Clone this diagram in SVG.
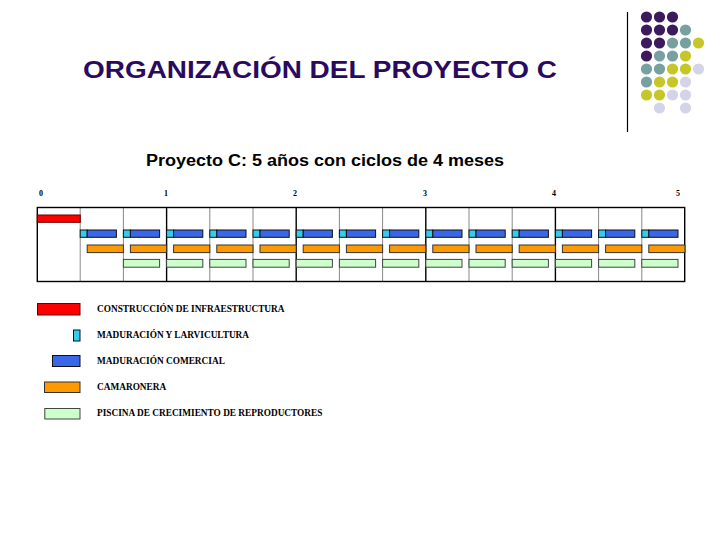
<svg xmlns="http://www.w3.org/2000/svg" xmlns:xlink="http://www.w3.org/1999/xlink" width="720" height="540" viewBox="0 0 720 540">
<style>
.title{font-family:"Liberation Sans",Arial,sans-serif;font-size:24px;font-weight:bold;fill:#2A0A5E}
.sub{font-family:"Liberation Sans",Arial,sans-serif;font-size:16px;font-weight:bold;fill:#000}
.tick{font-family:"Liberation Serif","Times New Roman",serif;font-size:8px;font-weight:bold;fill:#000}
.leg{font-family:"Liberation Serif","Times New Roman",serif;font-size:9.3px;font-weight:bold;fill:#000}
.red{fill:#FF0000;stroke:#600;stroke-width:1}
.cy{fill:#33CCEE;stroke:#111;stroke-width:1}
.bl{fill:#3A66E8;stroke:#111;stroke-width:1}
.or{fill:#FF9900;stroke:#333;stroke-width:1}
.gr{fill:#CCFFCC;stroke:#444;stroke-width:1}
.yr{stroke:#000;stroke-width:1.4}
.mo{stroke:#888;stroke-width:1}
.p{fill:#3C1A5E}.t{fill:#77A0A0}.y{fill:#C6C628}.l{fill:#D4D4E8}
</style>
<defs>
<g id="cb"><rect class="cy" x="0" y="230" width="7" height="7.3"/><rect class="bl" x="7" y="230" width="29.2" height="7.3"/></g>
<rect id="ob" class="or" x="7" y="245" width="36.2" height="7.6"/>
<rect id="gb" class="gr" x="0" y="259.4" width="36.2" height="7.8"/>
</defs>
<rect width="720" height="540" fill="#fff"/>
<g id="title"><text class="title" x="83" y="78" textLength="474" lengthAdjust="spacingAndGlyphs">ORGANIZACIÓN DEL PROYECTO C</text></g>
<g id="subtitle"><text class="sub" x="146" y="166" textLength="358" lengthAdjust="spacingAndGlyphs">Proyecto C: 5 años con ciclos de 4 meses</text></g>
<g id="decor">
<line x1="627.5" y1="12" x2="627.5" y2="132" stroke="#000" stroke-width="1.2"/>
<circle class="p" cx="646.5" cy="17" r="5.6"/><circle class="p" cx="659.5" cy="17" r="5.6"/><circle class="p" cx="672.5" cy="17" r="5.6"/>
<circle class="p" cx="646.5" cy="30" r="5.6"/><circle class="p" cx="659.5" cy="30" r="5.6"/><circle class="p" cx="672.5" cy="30" r="5.6"/><circle class="t" cx="685.5" cy="30" r="5.6"/>
<circle class="p" cx="646.5" cy="43" r="5.6"/><circle class="p" cx="659.5" cy="43" r="5.6"/><circle class="t" cx="672.5" cy="43" r="5.6"/><circle class="t" cx="685.5" cy="43" r="5.6"/><circle class="y" cx="698.5" cy="43" r="5.6"/>
<circle class="p" cx="646.5" cy="56" r="5.6"/><circle class="t" cx="659.5" cy="56" r="5.6"/><circle class="t" cx="672.5" cy="56" r="5.6"/><circle class="y" cx="685.5" cy="56" r="5.6"/>
<circle class="t" cx="646.5" cy="69" r="5.6"/><circle class="t" cx="659.5" cy="69" r="5.6"/><circle class="y" cx="672.5" cy="69" r="5.6"/><circle class="y" cx="685.5" cy="69" r="5.6"/><circle class="l" cx="698.5" cy="69" r="5.6"/>
<circle class="t" cx="646.5" cy="82" r="5.6"/><circle class="y" cx="659.5" cy="82" r="5.6"/><circle class="y" cx="672.5" cy="82" r="5.6"/><circle class="l" cx="685.5" cy="82" r="5.6"/>
<circle class="y" cx="646.5" cy="95" r="5.6"/><circle class="y" cx="659.5" cy="95" r="5.6"/><circle class="l" cx="672.5" cy="95" r="5.6"/><circle class="l" cx="685.5" cy="95" r="5.6"/>
<circle class="l" cx="659.5" cy="108" r="5.6"/><circle class="l" cx="685.5" cy="108" r="5.6"/>
</g>
<g id="chart">
<text class="tick" x="39" y="196">0</text>
<text class="tick" x="164" y="196">1</text>
<text class="tick" x="293" y="196">2</text>
<text class="tick" x="423" y="196">3</text>
<text class="tick" x="552" y="196">4</text>
<text class="tick" x="676" y="196">5</text>
<g fill="none">
<line class="mo" x1="80.2" y1="207.5" x2="80.2" y2="281.5"/>
<line class="mo" x1="123.4" y1="207.5" x2="123.4" y2="281.5"/>
<line class="mo" x1="209.8" y1="207.5" x2="209.8" y2="281.5"/>
<line class="mo" x1="253" y1="207.5" x2="253" y2="281.5"/>
<line class="mo" x1="339.4" y1="207.5" x2="339.4" y2="281.5"/>
<line class="mo" x1="382.6" y1="207.5" x2="382.6" y2="281.5"/>
<line class="mo" x1="469" y1="207.5" x2="469" y2="281.5"/>
<line class="mo" x1="512.2" y1="207.5" x2="512.2" y2="281.5"/>
<line class="mo" x1="598.6" y1="207.5" x2="598.6" y2="281.5"/>
<line class="mo" x1="641.8" y1="207.5" x2="641.8" y2="281.5"/>
<line class="yr" x1="166.6" y1="207.5" x2="166.6" y2="281.5"/>
<line class="yr" x1="296.2" y1="207.5" x2="296.2" y2="281.5"/>
<line class="yr" x1="425.8" y1="207.5" x2="425.8" y2="281.5"/>
<line class="yr" x1="555.4" y1="207.5" x2="555.4" y2="281.5"/>
<rect x="37.3" y="207.5" width="647.4" height="74" stroke="#000" stroke-width="1.4"/>
</g>
<rect class="red" x="37.3" y="215" width="43" height="7.3"/>
<use xlink:href="#cb" x="80.2"/><use xlink:href="#cb" x="123.4"/><use xlink:href="#cb" x="166.6"/><use xlink:href="#cb" x="209.8"/><use xlink:href="#cb" x="253"/><use xlink:href="#cb" x="296.2"/><use xlink:href="#cb" x="339.4"/><use xlink:href="#cb" x="382.6"/><use xlink:href="#cb" x="425.8"/><use xlink:href="#cb" x="469"/><use xlink:href="#cb" x="512.2"/><use xlink:href="#cb" x="555.4"/><use xlink:href="#cb" x="598.6"/><use xlink:href="#cb" x="641.8"/>
<use xlink:href="#ob" x="80.2"/><use xlink:href="#ob" x="123.4"/><use xlink:href="#ob" x="166.6"/><use xlink:href="#ob" x="209.8"/><use xlink:href="#ob" x="253"/><use xlink:href="#ob" x="296.2"/><use xlink:href="#ob" x="339.4"/><use xlink:href="#ob" x="382.6"/><use xlink:href="#ob" x="425.8"/><use xlink:href="#ob" x="469"/><use xlink:href="#ob" x="512.2"/><use xlink:href="#ob" x="555.4"/><use xlink:href="#ob" x="598.6"/><use xlink:href="#ob" x="641.8"/>
<use xlink:href="#gb" x="123.4"/><use xlink:href="#gb" x="166.6"/><use xlink:href="#gb" x="209.8"/><use xlink:href="#gb" x="253"/><use xlink:href="#gb" x="296.2"/><use xlink:href="#gb" x="339.4"/><use xlink:href="#gb" x="382.6"/><use xlink:href="#gb" x="425.8"/><use xlink:href="#gb" x="469"/><use xlink:href="#gb" x="512.2"/><use xlink:href="#gb" x="555.4"/><use xlink:href="#gb" x="598.6"/><use xlink:href="#gb" x="641.8"/>
</g>
<g id="legend-construccion"><rect class="red" x="37.5" y="303.5" width="42.5" height="11.5"/><text class="leg" x="97" y="312">CONSTRUCCIÓN DE INFRAESTRUCTURA</text></g>
<g id="legend-maduracion-larvicultura"><rect class="cy" x="73.5" y="330" width="6.5" height="11"/><text class="leg" x="97" y="338">MADURACIÓN Y LARVICULTURA</text></g>
<g id="legend-maduracion-comercial"><rect class="bl" x="52.5" y="355.5" width="27.5" height="11"/><text class="leg" x="97" y="364">MADURACIÓN COMERCIAL</text></g>
<g id="legend-camaronera"><rect class="or" x="44.5" y="382" width="35.5" height="10.5"/><text class="leg" x="97" y="390">CAMARONERA</text></g>
<g id="legend-piscina"><rect class="gr" x="44.8" y="408.5" width="35.2" height="10.5"/><text class="leg" x="97" y="416">PISCINA DE CRECIMIENTO DE REPRODUCTORES</text></g>
</svg>
